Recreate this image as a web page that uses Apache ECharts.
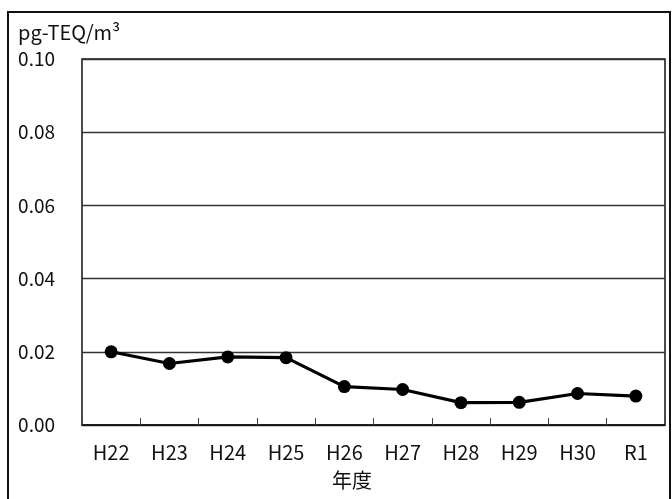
<!DOCTYPE html>
<html><head><meta charset="utf-8">
<script src="https://cdn.jsdelivr.net/npm/echarts@6/dist/echarts.min.js"></script>
<style>html,body{margin:0;padding:0;background:#fff}#c{width:672px;height:499px}</style>
</head><body><div id="c"></div>
<script>
const categories = ['H22','H23','H24','H25','H26','H27','H28','H29','H30','R1'];
const values = [0.0200,0.0168,0.0186,0.0184,0.0105,0.0097,0.0061,0.0062,0.0086,0.0079];
const unitLabel = 'pg-TEQ/m³';
const xName = '年度';
const FONT = '"Noto Sans CJK JP", "Noto Sans", sans-serif';
const chart = echarts.init(document.getElementById('c'), null, {renderer:'canvas'});
chart.setOption({
  animation: false,
  backgroundColor: '#fff',
  grid: {left: 82, right: 7, top: 59, bottom: 74, show: true, borderColor: '#111', borderWidth: 1.5, containLabel: false},
  xAxis: {
    type: 'category', data: categories, boundaryGap: true,
    axisLine: {show: true, lineStyle: {color: '#111', width: 1.5}},
    axisTick: {show: true, inside: true, length: 7, lineStyle: {color: '#444'}},
    axisLabel: {margin: 17, fontSize: 20, color: '#111', fontFamily: FONT},
    splitLine: {show: false}
  },
  yAxis: {
    type: 'value', min: 0, max: 0.1, interval: 0.02,
    axisLine: {show: false}, axisTick: {show: false},
    axisLabel: {margin: 27, fontSize: 19, color: '#111', fontFamily: FONT, formatter: v => v.toFixed(2)},
    splitLine: {show: true, lineStyle: {color: '#333', width: 1.3}}
  },
  graphic: [
    {type: 'rect', shape: {x: 8, y: 12, width: 662, height: 520}, style: {fill: 'none', stroke: '#111', lineWidth: 2}, silent: true},
    {type: 'text', x: 18, y: 32, style: {text: unitLabel, font: '20px ' + FONT, fill: '#111', verticalAlign: 'middle'}},
    {type: 'text', x: 352, y: 480, style: {text: xName, font: '20px ' + FONT, fill: '#111', align: 'center', verticalAlign: 'middle'}}
  ],
  series: [{
    type: 'line', data: values,
    symbol: 'circle', symbolSize: 13,
    lineStyle: {color: '#000', width: 3.2},
    itemStyle: {color: '#000'}
  }]
});
</script></body></html>
